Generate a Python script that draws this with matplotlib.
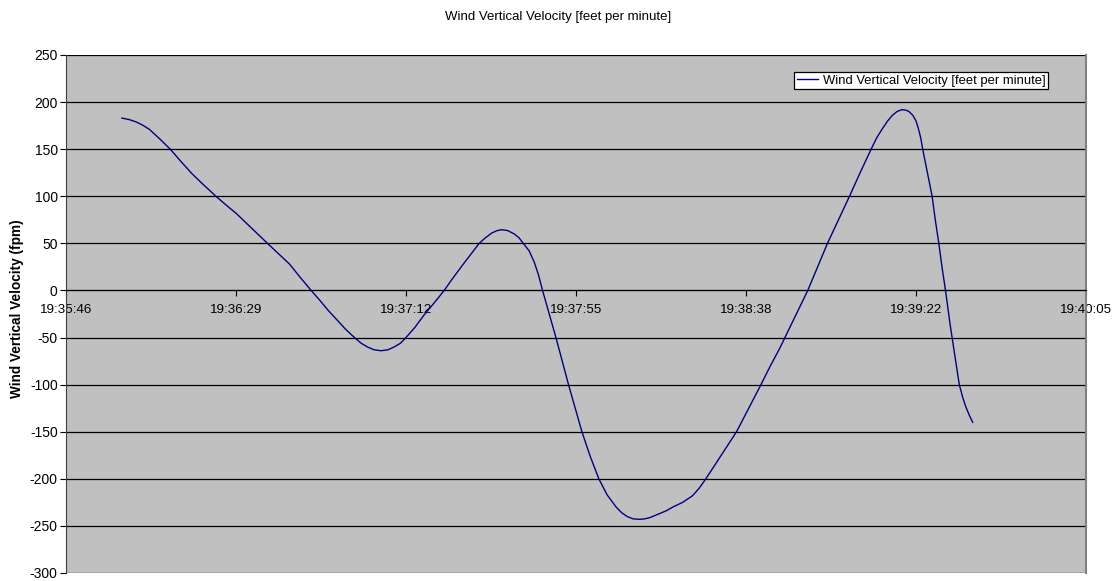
import matplotlib
matplotlib.use("Agg")
import matplotlib.pyplot as plt
from matplotlib.ticker import FuncFormatter, FixedLocator

plt.rcParams['font.family'] = ['Liberation Sans', 'DejaVu Sans']
plt.rcParams['axes.unicode_minus'] = False

# Sample times, seconds after 19:35:45.6 (axis origin = 0.8165 day)
start_sec = 0.8165 * 86400
elapsed = [14.2, 16.0, 17.8, 19.5, 21.2, 23.8, 26.5, 29.2, 32.0, 35.0,
           38.1, 40.6, 43.2, 47.2, 51.2, 54.0, 56.8, 59.5, 62.3, 64.4,
           66.6, 68.8, 71.0, 73.3, 75.0, 76.6, 78.3, 80.1, 81.8, 83.4,
           85.0, 86.4, 88.7, 91.0, 93.6, 96.1, 98.3, 100.6, 102.8, 105.0,
           106.6, 108.2, 109.5, 110.8, 112.3, 113.9, 115.1, 116.2, 117.7, 119.0,
           120.1, 121.1, 122.8, 124.5, 126.1, 127.7, 129.4, 131.1, 133.2, 135.4,
           137.5, 139.8, 141.2, 142.6, 144.1, 145.7, 147.1, 148.5, 150.8, 152.5,
           154.2, 156.7, 159.2, 160.9, 162.6, 166.5, 170.4, 173.5, 176.6, 179.0,
           181.3, 184.2, 188.5, 191.0, 193.5, 196.3, 199.1, 201.8, 204.6, 206.0,
           207.5, 208.8, 210.0, 211.2, 212.4, 213.4, 214.2, 215.2, 216.0, 216.6,
           217.2, 217.7, 218.9, 220.1, 220.9, 221.8, 222.6, 223.5, 224.7, 225.9,
           227.0, 227.9, 228.7, 229.6, 230.4]
velocity = [183, 181.5, 179, 175.5, 171, 161, 150, 137, 124, 112,
            100, 91, 82, 66, 50, 39, 28, 14, 0, -10,
            -21, -31, -41, -50, -56, -60, -63, -64, -63, -60,
            -56, -50, -39, -26, -13, 0, 13, 26, 38, 50,
            56, 61, 63.5, 64.5, 63.5, 60, 56, 50, 42, 30,
            16, 0, -25, -50, -75, -100, -125, -150, -176, -200,
            -217, -230, -236, -240, -242.5, -243, -242.5, -241, -237, -234,
            -230, -225, -218, -210, -200, -175, -150, -125, -100, -80,
            -62, -37, 0, 25, 50, 75, 100, 125, 150, 162,
            172, 180, 186, 190, 192, 191.5, 190, 186, 180, 172,
            162, 150, 125, 100, 75, 50, 25, 0, -37, -70,
            -100, -114, -124, -133, -140]
times = [start_sec + e for e in elapsed]

x_ticks = [0.8165 * 86400 + i * 0.0005 * 86400 for i in range(7)]
y_ticks = list(range(-300, 251, 50))


def hms(sec, pos=None):
    s = int(round(sec))
    return f"{s // 3600}:{(s % 3600) // 60:02d}:{s % 60:02d}"


fig = plt.figure(figsize=(11.17, 5.81), dpi=100)
ax = fig.add_axes([66 / 1117, 1 - 573 / 581, 1020 / 1117, 518 / 581])
ax.set_facecolor('#C0C0C0')

ax.plot(times, velocity, color='#000080', linewidth=1.0, zorder=3,
        label='Wind Vertical Velocity [feet per minute]')

ax.set_xlim(x_ticks[0], x_ticks[-1])
ax.set_ylim(-300, 250)
ax.yaxis.set_major_locator(FixedLocator(y_ticks))
ax.xaxis.set_major_locator(FixedLocator(x_ticks))
ax.xaxis.set_major_formatter(FuncFormatter(hms))

# horizontal gridlines drawn by hand so they sit under the curve
for yv in y_ticks:
    ax.axhline(yv, color='black', linewidth=0.9, zorder=1)

# category axis crosses at zero
ax.spines['bottom'].set_position(('data', 0))
ax.spines['bottom'].set_color('black')
ax.spines['left'].set_color('#404040')
ax.spines['top'].set_visible(False)
ax.spines['right'].set_color('#808080')
ax.spines['right'].set_linewidth(1.5)

ax.tick_params(axis='y', direction='out', length=4, width=0.8,
               labelsize=10, colors='black', pad=2)
ax.tick_params(axis='x', direction='out', length=4, width=0.8,
               labelsize=9.6, colors='black', pad=6)

fig.text(16.7 / 1117, 1 - 308.5 / 581, 'Wind Vertical Velocity (fpm)',
         rotation=90, ha='center', va='center', fontsize=9.8,
         fontweight='bold')

fig.text(0.5, 1 - 17 / 581, 'Wind Vertical Velocity [feet per minute]',
         ha='center', va='center', fontsize=9.5)

leg = ax.legend(loc='upper right', bbox_to_anchor=(0.963, 0.967),
                borderaxespad=0, fontsize=9.4, fancybox=False, framealpha=1,
                edgecolor='black', handlelength=1.6, handletextpad=0.4,
                borderpad=0.2)
leg.get_frame().set_linewidth(0.9)

fig.savefig('out.png', dpi=100, facecolor='white')
